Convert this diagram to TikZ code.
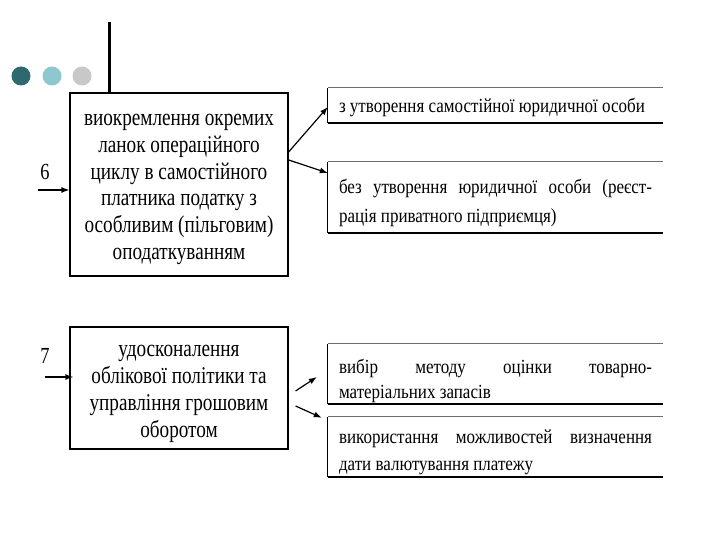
\documentclass[tikz,border=0pt]{standalone}
\usepackage{fontspec}
\setmainfont{Liberation Serif}
\newfontfamily\condbig[FakeStretch=0.80]{Liberation Serif}
\newfontfamily\condsmall[FakeStretch=0.85]{Liberation Serif}
\usetikzlibrary{arrows.meta,calc}
\definecolor{dotdark}{RGB}{45,105,110}
\definecolor{dotlight}{RGB}{140,200,205}
\definecolor{dotgrey}{RGB}{200,200,200}
\definecolor{topline}{RGB}{110,110,110}

\begin{document}
\begin{tikzpicture}[
  x=1pt, y=-1pt,
  bigbox/.style={draw, line width=1.2pt, inner sep=0pt, minimum width=218pt},
  bigtext/.style={align=center, inner sep=0pt, font=\condbig\fontsize{24}{26.8}\selectfont},
  sidebox/.style={inner sep=0pt, minimum width=335pt},
  sidetext/.style={inner sep=0pt, text width=313pt, align=justify,
    font=\condsmall\fontsize{20}{27}\selectfont},
  arr/.style={line width=1.2pt, -{Latex[length=8pt,width=6pt]}},
  num/.style={font=\condbig\fontsize{23}{24}\selectfont},
]
\useasboundingbox (0,0) rectangle (720,540);

% ===== Bullet dots and rule =====
\fill[dotdark]  (21,76) circle (9.5);
\fill[dotlight] (52,76) circle (9.5);
\fill[dotgrey]  (82,76) circle (9.5);
\coordinate (vtop) at (109,22);

% ===== Left boxes =====
\node[bigbox, minimum height=183pt] (b1) at (179,184.5) {};
\node[bigbox, minimum height=122pt] (b2) at (179,388) {};
\node[bigtext] (t1) at ([yshift=-5pt]b1.center)
  {виокремлення окремих\\ланок операційного\\циклу в самостійного\\платника податку з\\особливим (пільговим)\\оподаткуванням};
\node[bigtext] (t2) at ([yshift=-6pt]b2.center)
  {удосконалення\\облікової політики та\\управління грошовим\\оборотом};
\draw[line width=3pt] (vtop) -- (vtop |- b1.north);

% ===== Numbers =====
\node[num] (n6) at (45,172) {6};
\node[num] (n7) at (45,356) {7};
\coordinate (in6) at (38,190);
\coordinate (in7) at (45,377);
\draw[arr] (in6) -- (in6 -| b1.west);
\draw[arr] (in7) -- ([xshift=4pt]in7 -| b2.west);

% ===== Right boxes (open on the right) =====
\node[sidebox, minimum height=35pt] (r1) at (495.5,105.5) {};
\node[sidebox, minimum height=71pt] (r2) at (495.5,197.5) {};
\node[sidebox, minimum height=60pt] (r3) at (495.5,374) {};
\node[sidebox, minimum height=60pt] (r4) at (495.5,447) {};
\foreach \r in {r1,r2,r3,r4}{
  \draw[topline, line width=1pt] (\r.north east) -- (\r.north west);
  \draw[line width=1.2pt] (\r.north west) -- (\r.south west);
  \draw[line width=2pt] (\r.south west) -- (\r.south east);
}
\node[sidetext] (s1) at ([yshift=-2pt]r1.center)
  {з утворення самостійної юридичної особи};
\node[sidetext, font=\condsmall\fontsize{20}{29}\selectfont] (s2) at ([yshift=-5pt]r2.center)
  {без утворення юридичної особи (реєст-\linebreak рація приватного підприємця)};
\node[sidetext, font=\condsmall\fontsize{20}{24.5}\selectfont] (s3) at ([yshift=-7pt]r3.center)
  {вибір методу оцінки товарно-\linebreak матеріальних запасів};
\node[sidetext] (s4) at ([yshift=-5pt]r4.center)
  {використання можливостей визначення\linebreak дати валютування платежу};

% ===== Arrows to the right boxes =====
\draw[arr] ([yshift=32.5pt]b1.east) -- ([yshift=-1.5pt]r1.west);
\draw[arr] ([yshift=24.5pt]b1.east) -- ([yshift=24.5pt]r2.west);
\draw[arr] ([xshift=7pt,yshift=-3pt]b2.east) -- ([xshift=-11pt,yshift=-3pt]r3.west);
\draw[arr] ([xshift=7pt,yshift=-18pt]b2.east) -- ([xshift=-6pt,yshift=-1pt]r4.north west);
\end{tikzpicture}
\end{document}
